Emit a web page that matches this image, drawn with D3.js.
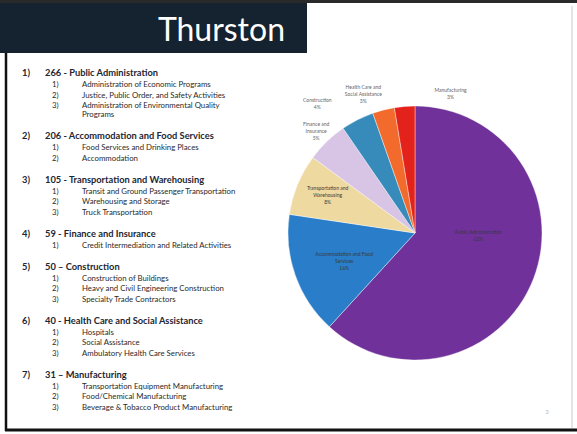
<!DOCTYPE html>
<html>
<head>
<meta charset="utf-8">
<script src="https://cdn.jsdelivr.net/npm/d3@7"></script>
<style>
  body { margin: 0; background: #fff; }
  svg { display: block; }
</style>
</head>
<body>
<script>
var svgWidth = 577;
var svgHeight = 434;

// industry list (left side)
var counts = [266, 206, 105, 59, 50, 40, 31];
var dashes = ["-", "-", "-", "-", "\u2013", "-", "\u2013"];
var sectors = [
  "Public Administration",
  "Accommodation and Food Services",
  "Transportation and Warehousing",
  "Finance and Insurance",
  "Construction",
  "Health Care and Social Assistance",
  "Manufacturing"
];
var subSectors = [
  ["Administration of Economic Programs", "Justice, Public Order, and Safety Activities", ["Administration of Environmental Quality", "Programs"]],
  ["Food Services and Drinking Places", "Accommodation"],
  ["Transit and Ground Passenger Transportation", "Warehousing and Storage", "Truck Transportation"],
  ["Credit Intermediation and Related Activities"],
  ["Construction of Buildings", "Heavy and Civil Engineering Construction", "Specialty Trade Contractors"],
  ["Hospitals", "Social Assistance", "Ambulatory Health Care Services"],
  ["Transportation Equipment Manufacturing", "Food/Chemical Manufacturing", "Beverage & Tobacco Product Manufacturing"]
];

// pie (share of total, percent)
var shares = [61.9, 15.6, 7.8, 5.3, 4.2, 2.8, 2.6];
var pieLabels = [
  ["Public Administration"],
  ["Accommodation and Food", "Services"],
  ["Transportation and", "Warehousing"],
  ["Finance and", "Insurance"],
  ["Construction"],
  ["Health Care and", "Social Assistance"],
  ["Manufacturing"]
];
var colors = ["#70319a", "#2a7dc8", "#eed9a0", "#d8c4e4", "#378bbb", "#f26b2c", "#e3231b"];

// label placement: radius factor, angle nudge (deg)
var labelRadius = [0.5, 0.6, 0.75, 1.12, 1.28, 1.17, 1.13];
var labelNudge = [-19, -2, 1, 0, -10, -6, 19];

var svg = d3.select("body").append("svg")
  .attr("width", svgWidth)
  .attr("height", svgHeight);

// slide frame
svg.append("rect").attr("x", 0).attr("y", 0).attr("width", svgWidth).attr("height", 3).attr("fill", "#2a2a2a");
svg.append("line").attr("x1", 6).attr("x2", 6).attr("y1", 53).attr("y2", 431)
  .attr("stroke", "#111").attr("stroke-width", 2.5);
svg.append("line").attr("x1", 5).attr("x2", svgWidth).attr("y1", 430).attr("y2", 430)
  .attr("stroke", "#111").attr("stroke-width", 3);
svg.append("line").attr("x1", 572).attr("x2", 572).attr("y1", 6).attr("y2", 428)
  .attr("stroke", "#ddd").attr("stroke-width", 1.5);

// title box
svg.append("rect").attr("x", 0).attr("y", 3).attr("width", 307).attr("height", 50).attr("fill", "#14232f");
svg.append("text")
  .attr("x", 285).attr("y", 41)
  .attr("text-anchor", "end")
  .attr("fill", "#fff")
  .style("font-family", "Lato, 'Liberation Sans', sans-serif")
  .style("font-size", "32px")
  .text("Thurston");

// list
var list = svg.append("g").style("font-family", "Lato, 'Liberation Sans', sans-serif");
var y = 76;
sectors.forEach(function(name, i) {
  list.append("text").attr("x", 22).attr("y", y)
    .style("font-size", "9.3px").style("font-weight", "bold").attr("fill", "#1d2633")
    .text((i + 1) + ")");
  list.append("text").attr("x", 45).attr("y", y)
    .style("font-size", "9.3px").style("font-weight", "bold").attr("fill", "#1d2633")
    .text(counts[i] + " " + dashes[i] + " " + name);
  var sy = y + 11;
  subSectors[i].forEach(function(s, j) {
    var lines = Array.isArray(s) ? s : [s];
    list.append("text").attr("x", 52).attr("y", sy)
      .style("font-size", "7.8px").attr("fill", "#2a2a2a")
      .text((j + 1) + ")");
    lines.forEach(function(l, k) {
      list.append("text").attr("x", 82).attr("y", sy + k * 9)
        .style("font-size", "7.8px").attr("fill", "#2a2a2a")
        .text(l);
    });
    sy += 10.5 + (lines.length - 1) * 9;
  });
  y = sy - 10.5 + 22;
});

// pie chart
var cx = 415, cy = 233, radius = 127;
var pie = d3.pie().sort(null).value(function(d) { return d; });
var arcs = pie(shares);
var arc = d3.arc().innerRadius(0).outerRadius(radius);

var pieGroup = svg.append("g").attr("transform", "translate(" + cx + "," + cy + ")");
pieGroup.selectAll("path")
  .data(arcs)
  .enter()
  .append("path")
  .attr("d", arc)
  .attr("fill", function(d, i) { return colors[i]; })
  .attr("stroke", "#fff")
  .attr("stroke-width", 0.4);

var labelGroup = pieGroup.append("g")
  .style("font-family", "Lato, 'Liberation Sans', sans-serif")
  .style("font-size", "5px");

arcs.forEach(function(d, i) {
  var mid = (d.startAngle + d.endAngle) / 2 + labelNudge[i] * Math.PI / 180;
  var r = radius * labelRadius[i];
  var pos = d3.arc().innerRadius(r).outerRadius(r).centroid({ startAngle: mid, endAngle: mid });
  var lines = pieLabels[i].concat([Math.round(shares[i]) + "%"]);
  var t = labelGroup.append("text")
    .attr("text-anchor", "middle")
    .attr("fill", i < 3 ? "#3a3a3a" : "#666");
  lines.forEach(function(l, k) {
    t.append("tspan")
      .attr("x", pos[0])
      .attr("y", pos[1] + (k - (lines.length - 1) / 2) * 7 + 2)
      .text(l);
  });
});

// slide number
svg.append("text").attr("x", 547).attr("y", 414)
  .attr("text-anchor", "middle")
  .style("font-family", "Lato, sans-serif").style("font-size", "6px")
  .attr("fill", "#bbb").text("3");
</script>
</body>
</html>
